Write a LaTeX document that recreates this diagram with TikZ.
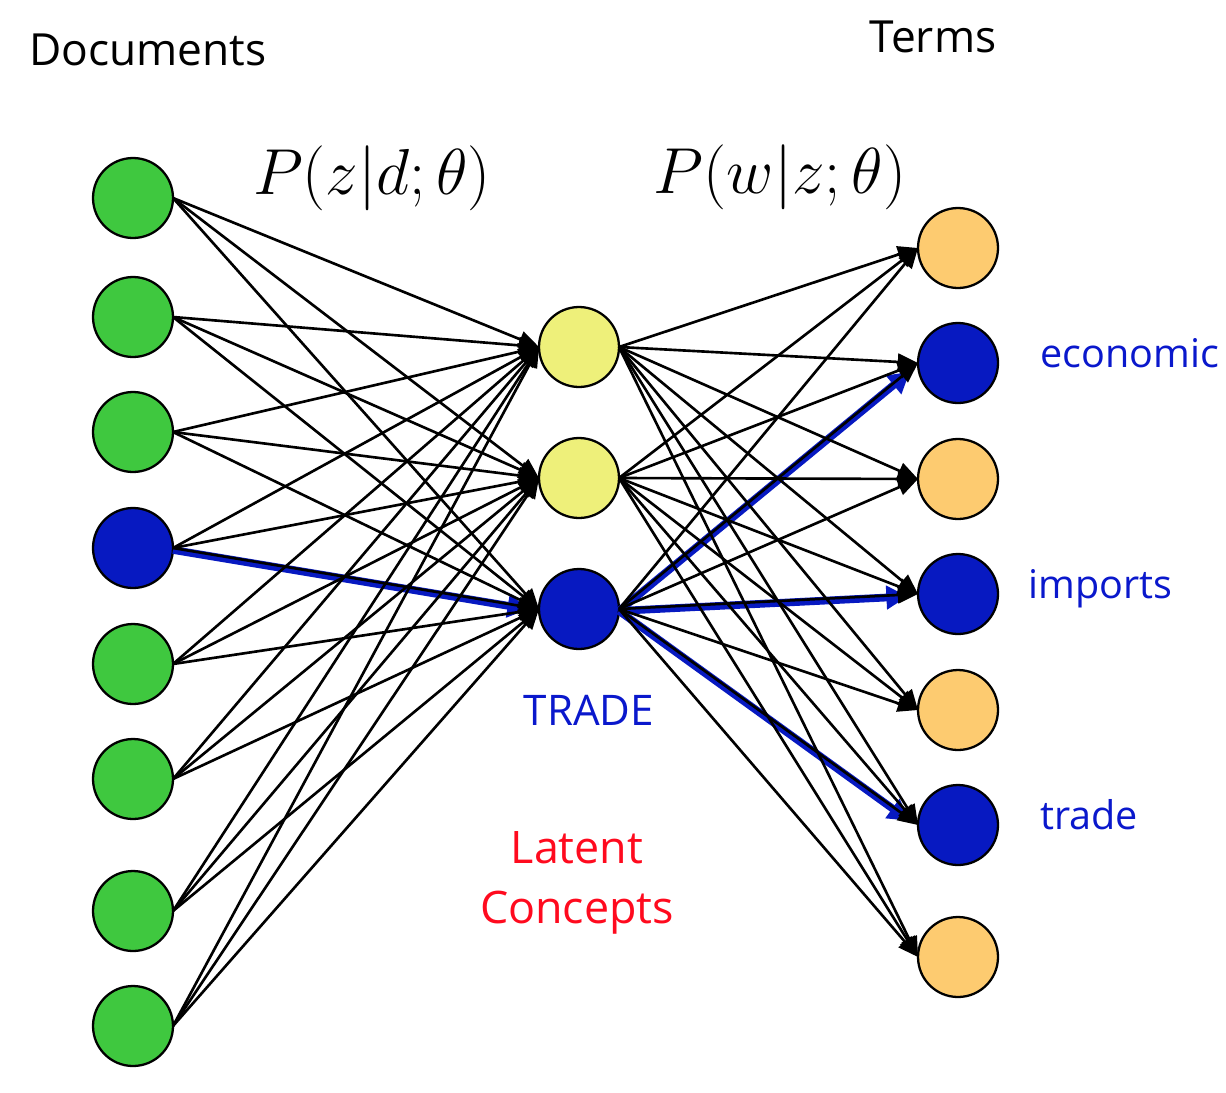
\documentclass[tikz,border=0pt]{standalone}
\usepackage{fontspec}
\setmainfont{Open Sans}
\usetikzlibrary{arrows.meta}
\definecolor{docgreen}{HTML}{3FC83F}
\definecolor{nodeblue}{HTML}{0719C1}
\definecolor{midyellow}{HTML}{EEF07A}
\definecolor{termorange}{HTML}{FDCB70}
\definecolor{textblue}{HTML}{0A18CC}
\definecolor{textred}{HTML}{FF0A1E}
\begin{document}
\begin{tikzpicture}[x=0.02cm,y=-0.02cm,
  circ/.style={circle,draw=black,line width=1.3pt,minimum size=1.6cm,inner sep=0pt,outer sep=0pt},
  arr/.style={draw=black,line width=1.5pt,-{Triangle[length=11.5pt,width=9.5pt]}},
  hl/.style={draw=nodeblue,line width=4.4pt,-{Triangle[length=12pt,width=13pt]},shorten >=6pt},
  headlab/.style={inner sep=0pt,font=\fontsize{25.2}{30}\selectfont,anchor=base},
  mathlab/.style={inner sep=0pt,font=\fontsize{24.88}{30}\selectfont,scale=1.487,anchor=base},
  termlab/.style={inner sep=0pt,font=\fontsize{22.5}{27}\selectfont,text=textblue,anchor=base west},
  conclab/.style={inner sep=0pt,font=\fontsize{25.5}{34}\selectfont,text=textred,anchor=base}]
\useasboundingbox (0,0) rectangle (1226,1092);
% documents
\foreach \i/\y/\c in {1/198/docgreen,2/317/docgreen,3/432/docgreen,4/548/nodeblue,5/664/docgreen,6/779/docgreen,7/911/docgreen,8/1026/docgreen}
  \node[circ,fill=\c] (d\i) at (133,\y) {};
% latent concepts
\foreach \i/\y/\c in {1/347/midyellow,2/478/midyellow,3/609/nodeblue}
  \node[circ,fill=\c] (m\i) at (579,\y) {};
% terms
\foreach \i/\y/\c in {1/248/termorange,2/363/nodeblue,3/479/termorange,4/594/nodeblue,5/710/termorange,6/825/nodeblue,7/957/termorange}
  \node[circ,fill=\c] (t\i) at (958,\y) {};
% highlighted paths
\draw[hl] ([yshift=-1.1pt]d4.east) -- ([yshift=-1.1pt]m3.west);
\draw[hl] ([yshift=-1.1pt]m3.east) -- ([yshift=-1.1pt]t2.west);
\draw[hl] ([yshift=-1.1pt]m3.east) -- ([yshift=-1.1pt]t4.west);
\draw[hl] ([yshift=-1.1pt]m3.east) -- ([yshift=-1.1pt]t6.west);
% all connections
\foreach \i in {1,...,8}
  \foreach \j in {1,2,3}
    \draw[arr] (d\i.east) -- (m\j.west);
\foreach \j in {1,2,3}
  \foreach \k in {1,...,7}
    \draw[arr] (m\j.east) -- (t\k.west);
% labels
\node[headlab] (doclab) at (148,65) {Documents};
\node[headlab] (termslab) at (933,52) {Terms};
\node[mathlab] (pzd) at (372,194) {$P(z|d;\theta)$};
\node[mathlab] (pwz) at (780,193) {$P(w|z;\theta)$};
\node[termlab] (econ) at (1040,367) {economic};
\node[termlab] (imp) at (1028,598) {imports};
\node[termlab] (trd) at (1040,829) {trade};
\node[headlab,text=textblue,font=\fontsize{24}{29}\selectfont] (tradelab) at (589,725) {TRADE};
\node[conclab] (lat1) at (577,863) {Latent};
\node[conclab] (lat2) at (577,923) {Concepts};
\end{tikzpicture}
\end{document}
